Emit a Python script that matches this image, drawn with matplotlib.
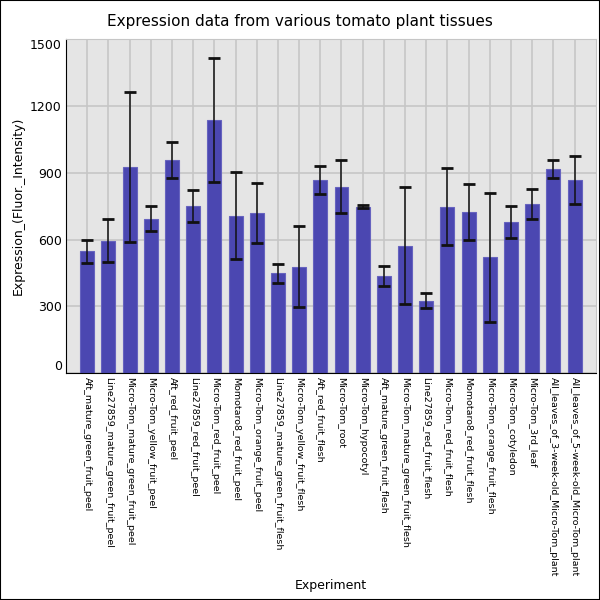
import matplotlib
matplotlib.use("Agg")
import matplotlib.pyplot as plt
import numpy as np

experiments = [
    "Aft_mature_green_fruit_peel",
    "Line27859_mature_green_fruit_peel",
    "Micro-Tom_mature_green_fruit_peel",
    "Micro-Tom_yellow_fruit_peel",
    "Aft_red_fruit_peel",
    "Line27859_red_fruit_peel",
    "Micro-Tom_red_fruit_peel",
    "Momotaro8_red_fruit_peel",
    "Micro-Tom_orange_fruit_peel",
    "Line27859_mature_green_fruit_flesh",
    "Micro-Tom_yellow_fruit_flesh",
    "Aft_red_fruit_flesh",
    "Micro-Tom_root",
    "Micro-Tom_hypocotyl",
    "Aft_mature_green_fruit_flesh",
    "Micro-Tom_mature_green_fruit_flesh",
    "Line27859_red_fruit_flesh",
    "Micro-Tom_red_fruit_flesh",
    "Momotaro8_red_fruit_flesh",
    "Micro-Tom_orange_fruit_flesh",
    "Micro-Tom_cotyledon",
    "Micro-Tom_3rd_leaf",
    "All_leaves_of_3-week-old_Micro-Tom_plant",
    "All_leaves_of_5-week-old_Micro-Tom_plant",
]
expression = [548, 595, 926, 694, 957, 750, 1135, 707, 719, 448,
              478, 869, 837, 748, 436, 572, 325, 747, 723, 521,
              679, 760, 917, 866]
std_err = [52, 95, 336, 55, 81, 71, 278, 196, 136, 42,
           182, 63, 118, 7, 44, 262, 34, 172, 125, 290,
           70, 66, 41, 107]
y_ticks = [0, 300, 600, 900, 1200, 1500]


def draw_chart(out_name: str):
    x = np.arange(len(experiments))

    fig = plt.figure(figsize=(6, 6), dpi=100)
    ax = fig.add_axes([0.11, 0.378, 0.883, 0.557])
    ax.set_facecolor("#e5e5e5")
    ax.set_axisbelow(True)
    ax.grid(True, color="#c6c6c6", linewidth=1.2)

    ax.bar(x, expression, 0.66, color="#4b47b1", edgecolor="#6663bf", linewidth=0.8)
    ax.errorbar(x, expression, yerr=std_err, fmt="none", ecolor="#111111",
                elinewidth=1.1, capsize=4.5, capthick=2)

    ax.set_xlim(-1, 24)
    ax.set_ylim(0, 1500)
    ax.set_yticks(y_ticks)
    ax.set_yticklabels([str(t) for t in y_ticks], fontsize=9)
    # end labels sit inside the axis range, like the original
    labels = ax.get_yticklabels()
    labels[0].set_verticalalignment("bottom")
    labels[-1].set_verticalalignment("top")
    ax.set_xticks(x)
    ax.set_xticklabels(experiments, rotation=270, fontsize=6.8)
    ax.tick_params(length=0, pad=3)

    for side in ["top", "right"]:
        ax.spines[side].set_color("#c6c6c6")
    ax.spines["left"].set_color("black")
    ax.spines["bottom"].set_color("black")

    ax.set_ylabel("Expression_(Fluor._Intensity)", fontsize=9)
    ax.set_xlabel("Experiment", fontsize=9)
    ax.xaxis.set_label_coords(0.5, -0.615)
    fig.suptitle("Expression data from various tomato plant tissues", fontsize=11, y=0.976)

    # thin frame around the whole picture
    fig.patches.append(plt.Rectangle((0, 0), 1, 1, transform=fig.transFigure,
                                     fill=False, edgecolor="black", linewidth=1.5))
    fig.savefig(out_name)


if __name__ == '__main__':
    draw_chart("out.png")
